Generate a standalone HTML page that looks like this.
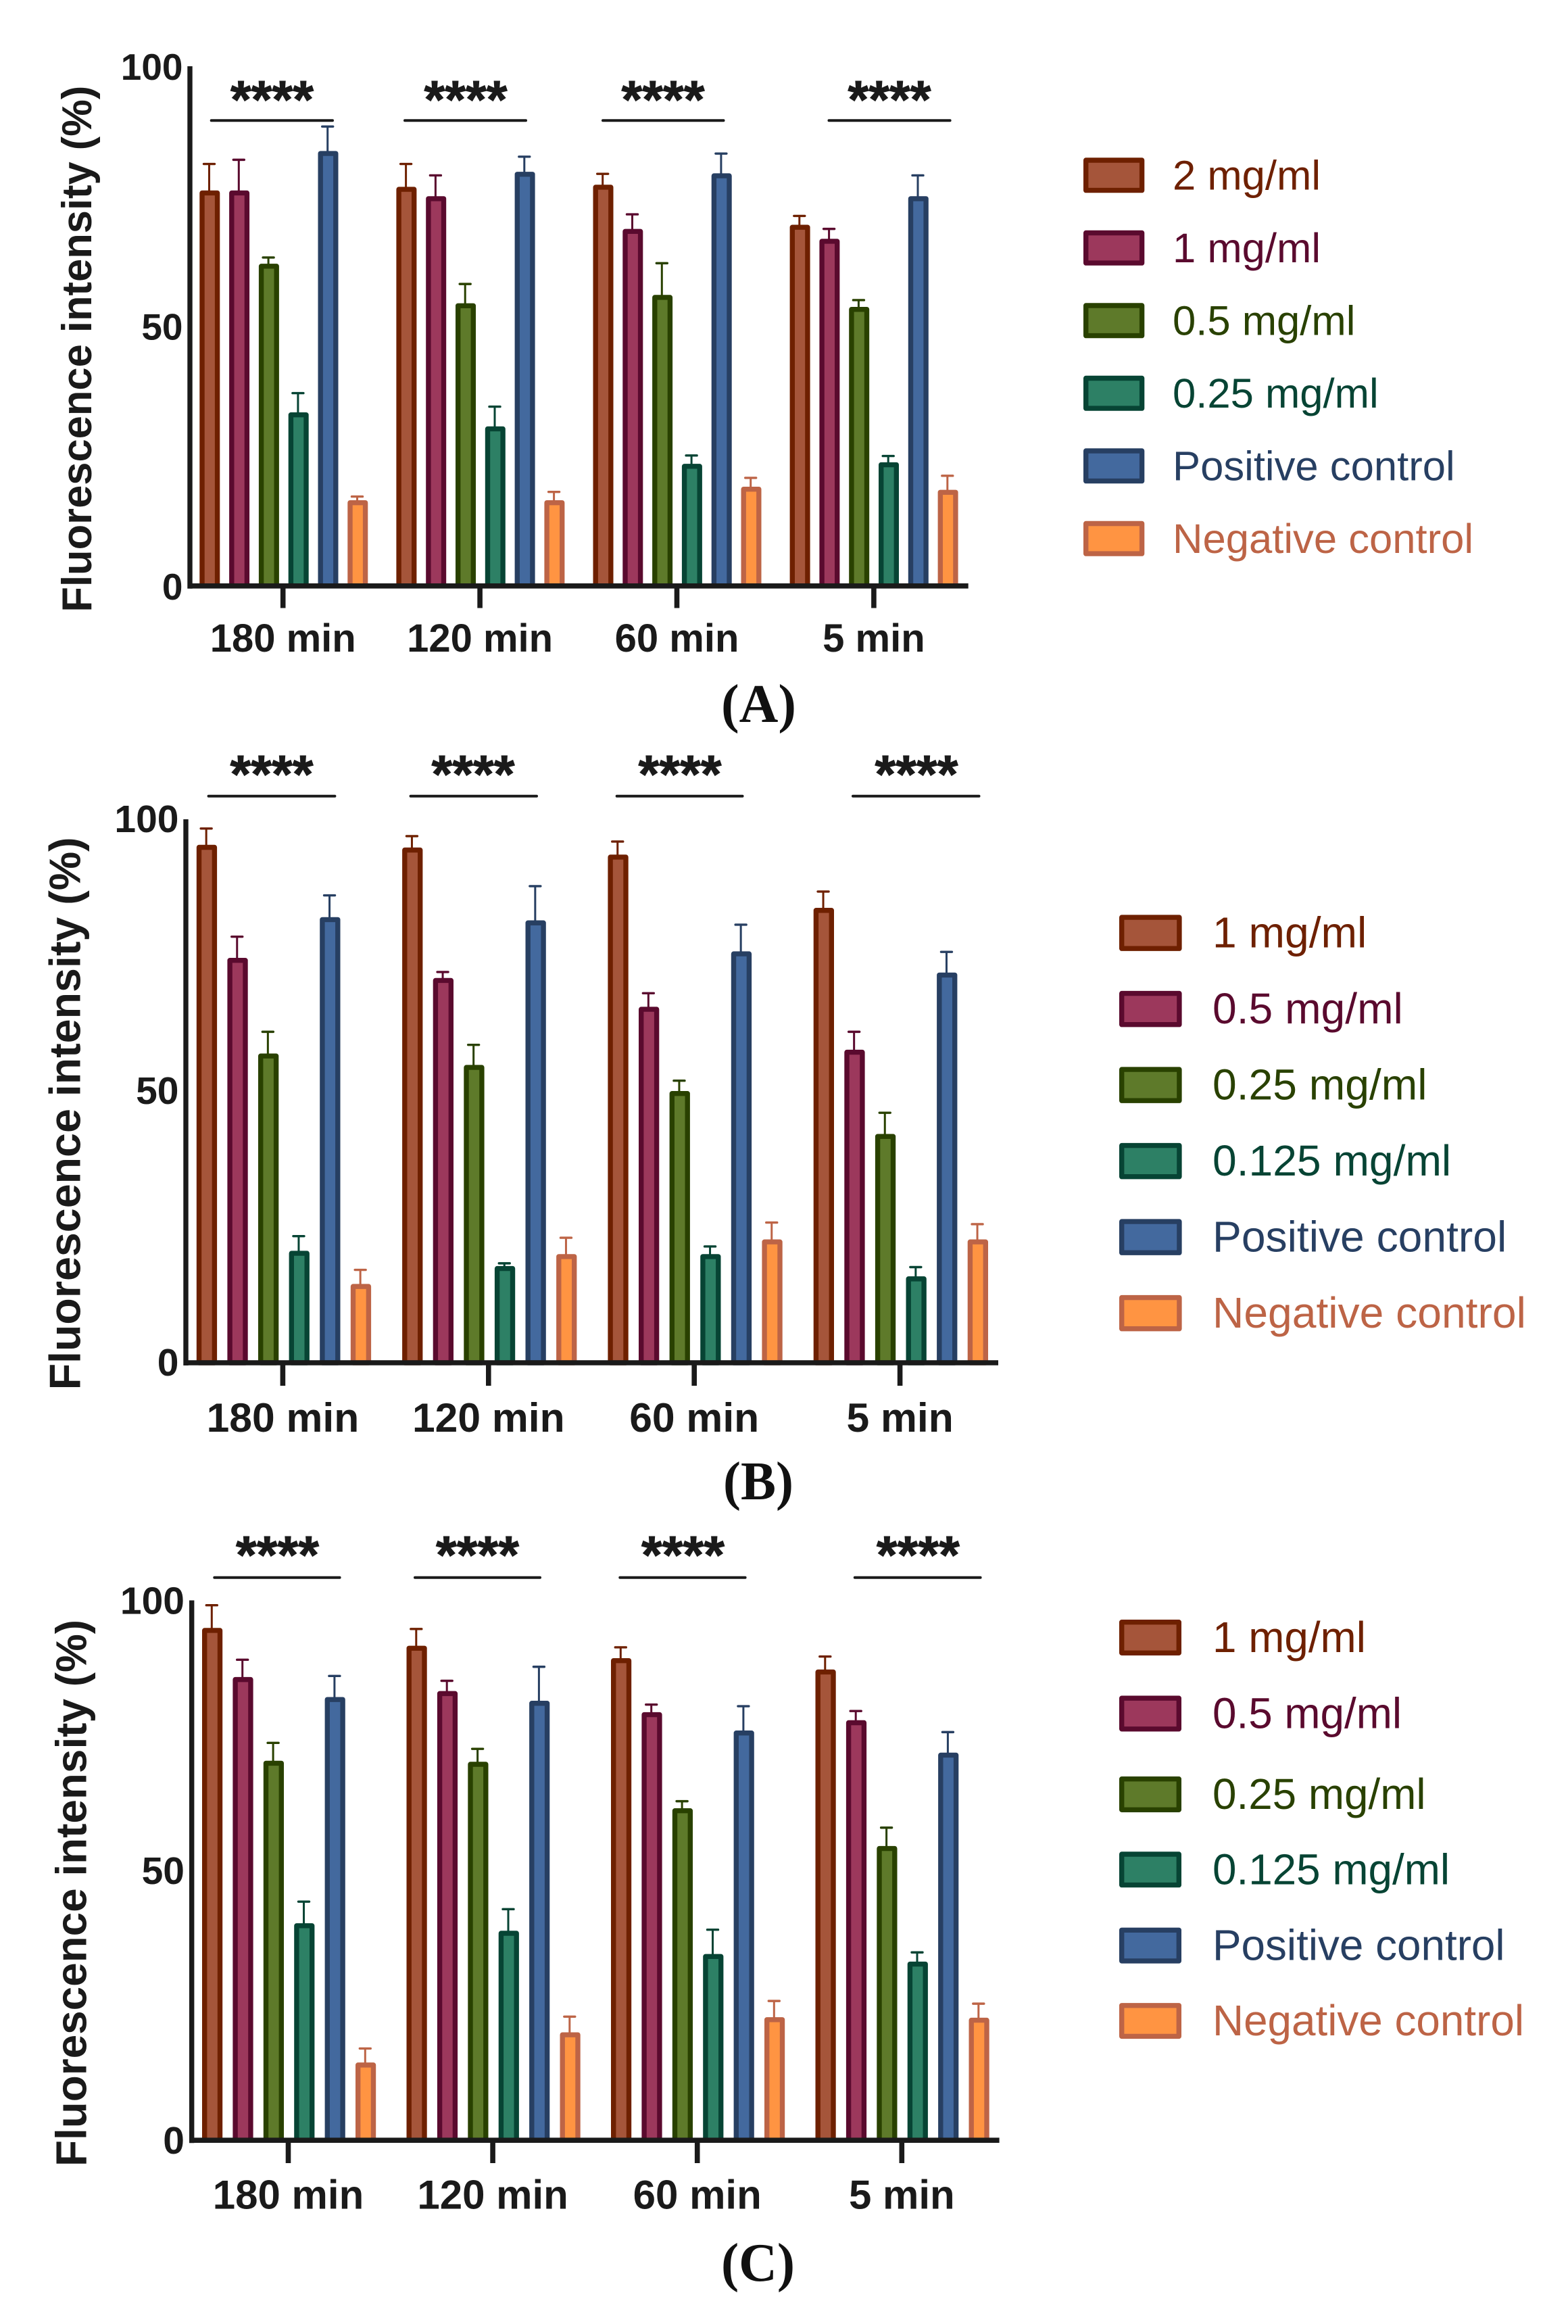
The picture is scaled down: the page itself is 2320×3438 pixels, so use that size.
<!DOCTYPE html>
<html lang="en">
<head>
<meta charset="utf-8">
<title>Fluorescence intensity bar charts</title>
<style>
  html, body { margin: 0; padding: 0; background: #ffffff; }
  svg { display: block; }
  text { font-family: "Liberation Sans", Arial, sans-serif; }
</style>
</head>
<body>
<svg id="figure" xmlns="http://www.w3.org/2000/svg" width="2320" height="3438" viewBox="0 0 2320 3438">
  <rect x="0" y="0" width="2320" height="3438" fill="#ffffff"/>
</svg>
<script>
// ---- Chart data ----
const categories = ['180 min', '120 min', '60 min', '5 min'];
const yTickValues = [0, 50, 100];
const significanceLabel = '****';

const legendLabelsA = ['2 mg/ml', '1 mg/ml', '0.5 mg/ml', '0.25 mg/ml', 'Positive control', 'Negative control'];
const legendLabelsBC = ['1 mg/ml', '0.5 mg/ml', '0.25 mg/ml', '0.125 mg/ml', 'Positive control', 'Negative control'];

// Each row is one time group; each column is one series (legend order).
const meansA = [
  [76.1, 76.1, 62.0, 33.4, 83.7, 16.5],
  [76.8, 75.0, 54.4, 30.7, 79.7, 16.5],
  [77.2, 68.7, 56.0, 23.5, 79.4, 19.1],
  [69.5, 66.8, 53.7, 23.8, 75.0, 18.5]
];
const upperA = [
  [81.2, 82.0, 63.2, 37.1, 88.4, 17.2],
  [81.2, 79.0, 58.1, 34.5, 82.6, 18.1],
  [79.3, 71.5, 62.1, 25.1, 83.2, 20.8],
  [71.2, 68.7, 55.0, 25.0, 79.0, 21.2]
];
const meansB = [
  [95.3, 74.5, 56.9, 20.6, 82.0, 14.5],
  [94.8, 70.8, 54.8, 17.8, 81.4, 20.0],
  [93.5, 65.5, 50.0, 20.0, 75.7, 22.7],
  [83.7, 57.6, 42.1, 15.9, 71.8, 22.7]
];
const upperB = [
  [98.3, 78.4, 60.9, 23.3, 86.0, 17.1],
  [96.9, 71.9, 58.5, 18.3, 87.7, 23.0],
  [95.9, 68.0, 51.9, 21.4, 80.6, 25.8],
  [86.7, 60.9, 46.0, 17.6, 75.6, 25.5]
];
const meansC = [
  [94.9, 85.8, 70.3, 40.2, 82.1, 14.4],
  [91.6, 83.2, 70.1, 38.8, 81.4, 20.0],
  [89.3, 79.3, 61.5, 34.5, 75.9, 22.8],
  [87.2, 77.8, 54.5, 33.1, 71.8, 22.7]
];
const upperC = [
  [99.1, 89.0, 73.6, 44.2, 86.0, 17.0],
  [94.7, 85.1, 72.5, 42.8, 87.7, 22.9],
  [91.3, 80.7, 62.8, 39.0, 80.4, 25.8],
  [89.6, 79.5, 57.9, 34.8, 75.6, 25.3]
];

// ---- Series styling ----
const seriesStroke = ['#6e2000', '#5a0a2e', '#294100', '#074434', '#273f62', '#bd6446'];
const seriesFill   = ['#a5553a', '#9c385c', '#5e7a2a', '#2d8065', '#43699e', '#ff9442'];
const INK = '#1a1a1a';

const svg = document.getElementById('figure');
const NS = 'http://www.w3.org/2000/svg';

function make(tag, attrs, parent) {
  const el = document.createElementNS(NS, tag);
  for (const k in attrs) el.setAttribute(k, attrs[k]);
  parent.appendChild(el);
  return el;
}

function drawChart(p) {
  const root = make('g', {}, svg);
  
  

  const yScale = v => p.baseY - v * (p.baseY - p.topY) / 100;
  const barX = (g, s) => p.barStart + g * p.groupPitch + s * p.barPitch;
  const tickX = g => p.tickStart + g * p.tickPitch;

  // bars and error bars
  p.means.forEach((row, g) => {
    row.forEach((value, s) => {
      const x = barX(g, s);
      const w = p.barWidth;
      const sw = 7.4;
      const cx = x + w / 2 - 0.8;
      const stem = make('line', { x1: cx, x2: cx, y1: yScale(p.upper[g][s]), y2: yScale(value) + 4, stroke: seriesStroke[s], 'stroke-width': 3 }, root);
      
      
      const cap = make('line', { x1: cx - 8, x2: cx + 8, y1: yScale(p.upper[g][s]), y2: yScale(p.upper[g][s]), stroke: seriesStroke[s], 'stroke-width': 3.4, 'stroke-linecap': 'round' }, root);
      
      
      const bar = make('rect', { x: x + sw / 2, y: yScale(value) + sw / 2, width: w - sw, height: Math.max(0, p.baseY - yScale(value) - sw / 2), fill: seriesFill[s], stroke: seriesStroke[s], 'stroke-width': sw, 'stroke-linejoin': 'round' }, root);
      
      
    });
  });

  // axes
  const yAxis = make('line', { x1: p.axisX, x2: p.axisX, y1: p.topY, y2: p.baseY + 4, stroke: INK, 'stroke-width': 7.4 }, root);
  
  
  const xAxis = make('line', { x1: p.axisX, x2: p.axisEnd, y1: p.baseY, y2: p.baseY, stroke: INK, 'stroke-width': 7.6 }, root);
  
  

  // x ticks and labels
  categories.forEach((label, g) => {
    const t = make('line', { x1: tickX(g), x2: tickX(g), y1: p.baseY, y2: p.tickBottom, stroke: INK, 'stroke-width': 7.6 }, root);
    
    
    const tx = make('text', { x: tickX(g), y: p.xLabelY, 'text-anchor': 'middle', 'font-size': p.xFont, 'font-weight': 700, fill: INK }, root);
    tx.textContent = label;
    
    
  });

  // y tick labels
  yTickValues.forEach(v => {
    const tx = make('text', { x: p.yLabelRight, y: yScale(v) + p.yLabelDrop, 'text-anchor': 'end', 'font-size': p.yFont, 'font-weight': 700, fill: INK }, root);
    tx.textContent = String(v);
    
    
  });

  // y axis title
  const title = make('text', { x: 0, y: 0, transform: 'translate(' + p.titleX + ',' + p.titleY + ') rotate(-90)', 'font-size': p.titleFont, 'font-weight': 700, fill: INK, textLength: p.titleLen, lengthAdjust: 'spacingAndGlyphs' }, root);
  title.textContent = 'Fluorescence intensity (%)';
  
  

  // legend
  p.legend.forEach((label, s) => {
    const y = p.legendY + s * p.legendStep + (p.legendNudge ? p.legendNudge[s] : 0);
    const sw = 7.4;
    const sq = make('rect', { x: p.swatchX + sw / 2, y: y + sw / 2, width: p.swatchW - sw, height: p.swatchH - sw, fill: seriesFill[s], stroke: seriesStroke[s], 'stroke-width': sw, 'stroke-linejoin': 'round' }, root);
    
    
    const tx = make('text', { x: p.legendTextX, y: y + p.legendDrop, 'font-size': p.legendFont, fill: seriesStroke[s] }, root);
    tx.textContent = label;
    
    
  });

  return root;
}

function drawBracket(root, x1, x2, y, starX, starY) {
  const line = make('line', { x1: x1 + 2, x2: x2 - 2, y1: y, y2: y, stroke: INK, 'stroke-width': 4, 'stroke-linecap': 'round' }, root);
  
  
  const stars = make('text', { x: starX, y: starY, 'text-anchor': 'middle', 'font-size': 79, 'font-weight': 700, fill: INK, stroke: INK, 'stroke-width': 1 }, root);
  stars.textContent = significanceLabel;
  
  
}

function drawPanelLabel(text, x, y, len) {
  const el = make('text', { x: x, y: y, 'font-size': 80, 'font-weight': 700, fill: '#111111', textLength: len, lengthAdjust: 'spacingAndGlyphs', style: 'font-family:"Liberation Serif",serif' }, svg);
  el.textContent = text;
  
  
}

const panelA = drawChart({
  id: 'a', means: meansA, upper: upperA, legend: legendLabelsA,
  axisX: 281, axisEnd: 1432.7, topY: 98, baseY: 866.8, tickBottom: 899.5,
  barStart: 295.3, groupPitch: 291.1, barPitch: 43.8, barWidth: 30,
  tickStart: 418.7, tickPitch: 291.4,
  xLabelY: 964, xFont: 58, yLabelRight: 270.5, yLabelDrop: 20, yFont: 55,
  titleX: 135, titleY: 905.6, titleFont: 62, titleLen: 779,
  swatchX: 1603, swatchW: 90.3, swatchH: 52, legendY: 233.3, legendStep: 107.5,
  legendTextX: 1735, legendDrop: 47, legendFont: 61.6
});
drawBracket(panelA, 310.7, 494, 178.3, 402.5, 174.5);
drawBracket(panelA, 597, 780, 178.3, 689, 174.5);
drawBracket(panelA, 890, 1072.5, 178.3, 981, 174.5);
drawBracket(panelA, 1224.5, 1407.6, 178.3, 1316, 174.5);

const panelB = drawChart({
  id: 'b', means: meansB, upper: upperB, legend: legendLabelsBC,
  axisX: 275, axisEnd: 1477, topY: 1212, baseY: 2016, tickBottom: 2050,
  barStart: 290.8, groupPitch: 304.3, barPitch: 45.6, barWidth: 30.3,
  tickStart: 418.4, tickPitch: 304.4,
  xLabelY: 2118, xFont: 60.6, yLabelRight: 264.5, yLabelDrop: 19, yFont: 57,
  titleX: 118.4, titleY: 2056.4, titleFont: 65, titleLen: 818,
  swatchX: 1656, swatchW: 92.6, swatchH: 53.5, legendY: 1353.4, legendStep: 112.5,
  legendTextX: 1794, legendDrop: 48, legendFont: 64.2
});
drawBracket(panelB, 306.6, 497.4, 1177.7, 402, 1172.5);
drawBracket(panelB, 605.6, 796, 1177.7, 700, 1172.5);
drawBracket(panelB, 910.7, 1100.5, 1177.7, 1006, 1172.5);
drawBracket(panelB, 1260, 1450.5, 1177.7, 1356, 1172.5);

const panelC = drawChart({
  id: 'c', means: meansC, upper: upperC, legend: legendLabelsBC,
  axisX: 283.7, axisEnd: 1478.6, topY: 2367.5, baseY: 3166.2, tickBottom: 3200,
  barStart: 299, groupPitch: 302.5, barPitch: 45.4, barWidth: 30.2,
  tickStart: 426.5, tickPitch: 302.6,
  xLabelY: 3267.4, xFont: 60, yLabelRight: 273, yLabelDrop: 20, yFont: 57,
  titleX: 127.5, titleY: 3205, titleFont: 64, titleLen: 809,
  swatchX: 1656, swatchW: 92, swatchH: 53, legendY: 2396, legendStep: 112.5,
  legendNudge: [0, 0, 7, 5.8, 5.6, 4.6],
  legendTextX: 1794, legendDrop: 48, legendFont: 63.8
});
drawBracket(panelC, 315.3, 504.6, 2333.8, 410.5, 2327.5);
drawBracket(panelC, 612, 801, 2333.8, 706.5, 2327.5);
drawBracket(panelC, 915.3, 1104.6, 2333.8, 1010.5, 2327.5);
drawBracket(panelC, 1262.8, 1452.6, 2333.8, 1358.4, 2327.5);

drawPanelLabel('(A)', 1067, 1068, 111);
drawPanelLabel('(B)', 1070, 2218, 104);
drawPanelLabel('(C)', 1067, 3374, 109);
</script>
</body>
</html>
